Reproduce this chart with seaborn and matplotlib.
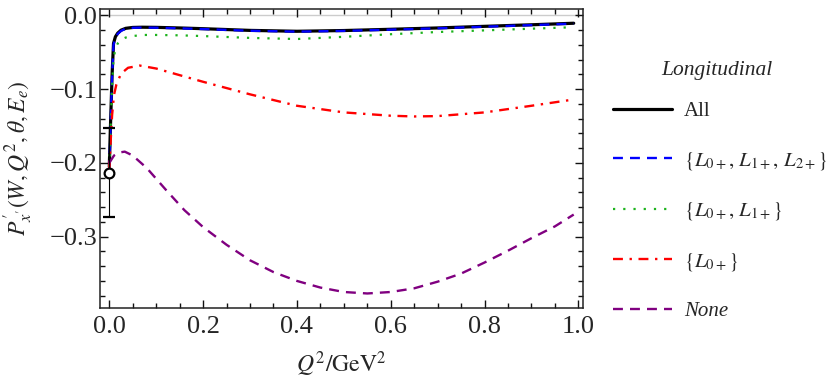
import numpy as np
import pandas as pd
import seaborn as sns
import matplotlib.pyplot as plt
from matplotlib.ticker import MultipleLocator

sns.set_theme(style="ticks")
plt.rcParams['font.family'] = ['Liberation Serif', 'DejaVu Serif']
plt.rcParams['mathtext.fontset'] = 'stix'

# ---------------- data ----------------
q2_main = [0, 0.003, 0.006, 0.009, 0.013, 0.018, 0.025, 0.035, 0.05, 0.07, 0.1,
           0.15, 0.2, 0.3, 0.4, 0.5, 0.6, 0.7, 0.8, 0.9, 0.99]
p_all = [-0.205, -0.14, -0.08, -0.038, -0.029, -0.024, -0.020, -0.0175, -0.0163,
         -0.016, -0.0162, -0.0170, -0.0180, -0.0203, -0.0215, -0.0205, -0.0188,
         -0.0170, -0.0148, -0.0127, -0.0106]
p_l012 = [-0.21, -0.145, -0.083, -0.040, -0.030, -0.025, -0.021, -0.0180, -0.0168,
          -0.0165, -0.0167, -0.0175, -0.0185, -0.0208, -0.0220, -0.0210, -0.0193,
          -0.0175, -0.0153, -0.0132, -0.0111]
p_l01 = [-0.205, -0.15, -0.095, -0.060, -0.045, -0.038, -0.033, -0.030, -0.028,
         -0.0265, -0.0265, -0.027, -0.028, -0.0305, -0.032, -0.029, -0.0255,
         -0.0225, -0.0203, -0.018, -0.016]

q2_l0 = [0, 0.003, 0.006, 0.01, 0.015, 0.025, 0.04, 0.065, 0.1, 0.15, 0.2, 0.3,
         0.4, 0.5, 0.6, 0.65, 0.7, 0.8, 0.9, 0.99]
p_l0 = [-0.21, -0.17, -0.135, -0.108, -0.094, -0.079, -0.071, -0.068, -0.072,
        -0.081, -0.090, -0.107, -0.1225, -0.1315, -0.136, -0.137, -0.1365,
        -0.1315, -0.1225, -0.114]

q2_none = [0, 0.01, 0.02, 0.033, 0.05, 0.08, 0.12, 0.16, 0.2, 0.25, 0.3, 0.35,
           0.4, 0.45, 0.5, 0.55, 0.6, 0.65, 0.7, 0.75, 0.8, 0.85, 0.9, 0.95, 0.99]
p_none = [-0.20, -0.19, -0.186, -0.1847, -0.19, -0.207, -0.236, -0.264, -0.287,
          -0.311, -0.332, -0.348, -0.360, -0.369, -0.375, -0.377, -0.375, -0.370,
          -0.361, -0.350, -0.335, -0.319, -0.302, -0.286, -0.270]

exp_q2 = [0.0]
exp_p = [-0.213]
exp_err = [0.060]

labels = ["All", r"$\{L_{0+},\,L_{1+},\,L_{2+}\}$", r"$\{L_{0+},\,L_{1+}\}$",
          r"$\{L_{0+}\}$", "None"]
legend_title = "Longitudinal"
x_ticks = [0.0, 0.2, 0.4, 0.6, 0.8, 1.0]
y_ticks = [0.0, -0.1, -0.2, -0.3]

# ---------------- figure ----------------
fig = plt.figure(figsize=(8.3, 3.85), dpi=100)
ax = fig.add_axes([100/830, 1-308/385, (583-100)/830, (308-9)/385])

ax.axhline(0, color="#cccccc", lw=1.0, zorder=0)

styles = [
    (q2_main, p_all, "black", 2.3, None),
    (q2_main, p_l012, "#0000ff", 1.7, (4.2, 3.0)),
    (q2_main, p_l01, "#1db31d", 1.6, (1.0, 3.6)),
    (q2_l0, p_l0, "#ff0000", 1.7, (4.2, 2.8, 1.0, 2.8)),
    (q2_none, p_none, "#800080", 1.7, (4.2, 3.0)),
]
order_z = [1, 2, 3, 4, 5]
for (xs, ys, col, lw, dash), lab, z in zip(styles, labels, order_z):
    sns.lineplot(x=xs, y=ys, ax=ax, color=col, linewidth=lw, label=lab, zorder=z)
    ln = ax.lines[-1]
    if dash is not None:
        ln.set_dashes(dash)

ax.errorbar(exp_q2, exp_p, yerr=exp_err, fmt="o", ms=7, mfc="white", mec="black",
            mew=1.6, ecolor="black", elinewidth=0.8, capsize=4.5, capthick=0.8,
            zorder=6)

ax.set_xlim(-0.0198, 1.0098)
ax.set_ylim(-0.3967, 0.0087)
ax.set_xticks(x_ticks)
ax.set_yticks(y_ticks)
ax.xaxis.set_minor_locator(MultipleLocator(0.05))
ax.yaxis.set_minor_locator(MultipleLocator(0.02))
ax.set_xticklabels([f"{v:.1f}" for v in x_ticks])
ax.set_yticklabels([f"{v:.1f}".replace("-", "\u2212") for v in y_ticks])
ax.tick_params(which="both", direction="in", top=True, right=True,
               labelsize=19, color="#111111", width=1.0)
ax.tick_params(axis="y", which="major", length=6, pad=2)
ax.tick_params(axis="x", which="major", length=6, pad=6)
ax.tick_params(which="minor", length=3.5)
for s in ax.spines.values():
    s.set_visible(True)
    s.set_color("#222222")
    s.set_linewidth(1.1)

ax.set_xlabel(r"$Q^2/\mathrm{GeV}^2$", fontsize=17, labelpad=8)
ax.set_ylabel(r"$P^{\prime}_{x^{\prime}}(W, Q^2, \theta, E_e)$", fontsize=17,
              labelpad=10)

leg = ax.legend(loc="upper left",
                bbox_to_anchor=(605/830, 1-93/385), bbox_transform=fig.transFigure,
                frameon=False, fontsize=15,
                handlelength=2.8, handletextpad=0.6, labelspacing=1.38,
                borderaxespad=0)
leg.texts[-1].set_fontstyle("italic")
fig.text(717/830, 1-70/385, legend_title, ha="center", va="center",
         fontsize=15.5, fontstyle="italic")

fig.savefig("out.png", dpi=100)
